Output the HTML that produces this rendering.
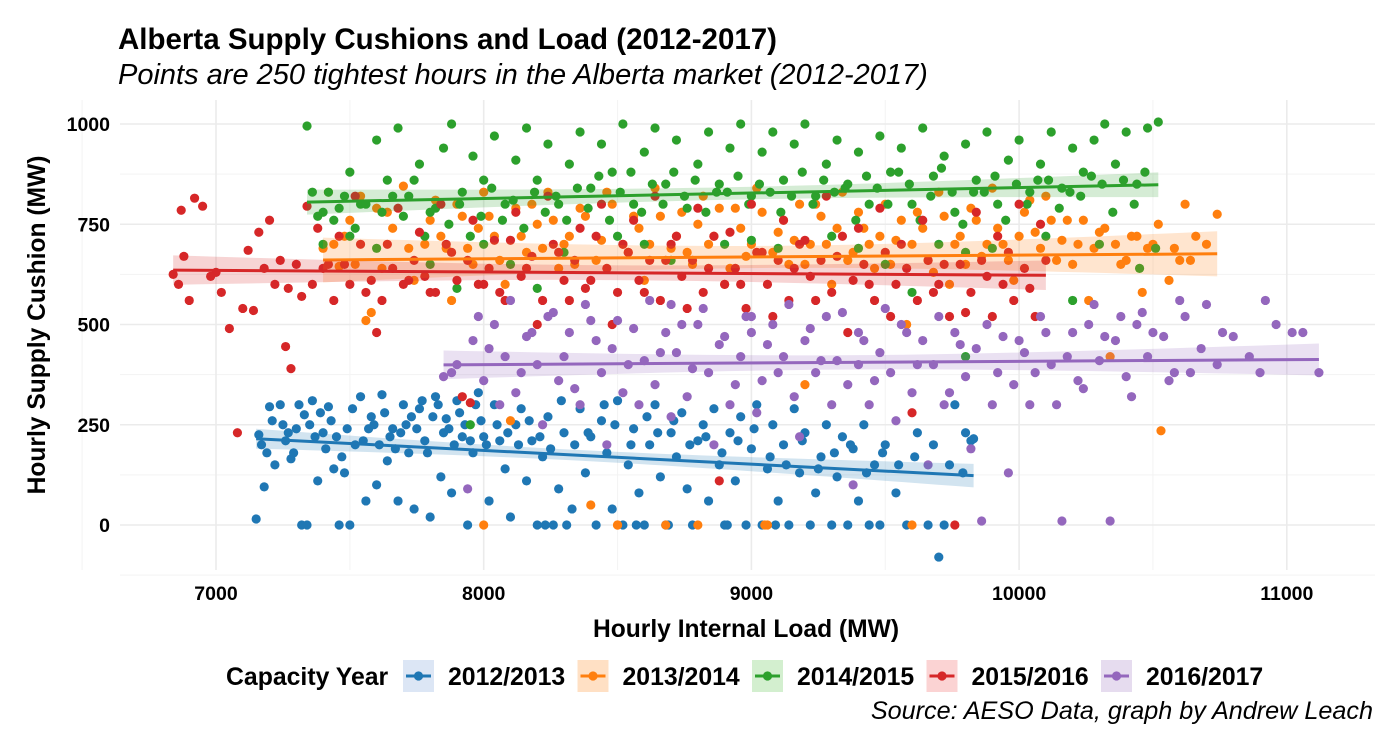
<!DOCTYPE html>
<html><head><meta charset="utf-8">
<style>
body{margin:0;background:#fff;}
svg{display:block;font-family:"Liberation Sans",Arial,sans-serif;}
</style></head>
<body>
<svg id="chart" width="1400" height="750" xmlns="http://www.w3.org/2000/svg">
<text x="118" y="49" font-size="29.5" font-weight="bold">Alberta Supply Cushions and Load (2012-2017)</text>
<text x="118" y="84" font-size="29" font-style="italic">Points are 250 tightest hours in the Alberta market (2012-2017)</text>
<g id="grid"></g>
<g id="marks"></g>
<g id="axes"></g>
<text x="746" y="637" font-size="24.6" font-weight="bold" text-anchor="middle">Hourly Internal Load (MW)</text>
<text transform="translate(45,325) rotate(-90)" font-size="24.6" font-weight="bold" text-anchor="middle">Hourly Supply Cushion (MW)</text>
<g id="legend">
<text x="226" y="685" font-size="24.8" font-weight="bold">Capacity Year</text>
</g>
<text x="1373" y="719" font-size="25.2" font-style="italic" text-anchor="end">Source: AESO Data, graph by Andrew Leach</text>
</svg>
<script>
const seriesNames=["2012/2013","2013/2014","2014/2015","2015/2016","2016/2017"];
const seriesColors=["#1f77b4","#ff7f0e","#2ca02c","#d62728","#9467bd"];
const fillColors=["#dce6f5","#ffe0c4","#d3efcf","#fbd3d3","#e6dcef"];
const xTicks=[7000,8000,9000,10000,11000];
const yTicks=[0,250,500,750,1000];
const s2012=[7150,15,7160,225,7180,95,7200,295,7220,150,7240,300,7260,210,7280,165,7300,240,7320,0,7330,275,7340,0,7360,310,7380,110,7400,230,7420,295,7440,140,7460,0,7480,130,7500,0,7520,200,7540,320,7560,60,7580,270,7600,100,7620,325,7640,160,7660,240,7680,60,7700,300,7720,180,7740,40,7760,290,7780,210,7800,20,7820,320,7840,120,7860,265,7880,80,7900,310,7920,220,7940,0,7960,180,7980,330,8000,220,8020,60,8040,300,8060,210,8080,140,8100,20,8120,250,8140,290,8160,110,8180,210,8200,0,8220,170,8240,270,8260,0,8280,90,8300,230,8330,40,8360,290,8380,130,8400,220,8420,0,8440,260,8460,180,8480,40,8500,310,8520,0,8540,150,8560,240,8580,80,8600,0,8620,200,8640,300,8660,120,8680,0,8700,230,8720,170,8740,280,8760,90,8780,0,8800,210,8820,250,8840,60,8860,290,8880,150,8900,0,8920,230,8940,110,8960,270,8980,0,9000,190,9020,300,9040,0,9060,140,9080,250,9100,60,9120,200,9140,0,9160,290,9180,130,9200,230,9220,0,9240,80,9260,170,9280,250,9300,0,9320,120,9340,220,9360,0,9380,190,9400,60,9420,250,9440,0,9460,150,9480,0,9500,200,9540,80,9580,0,9620,230,9660,0,9700,-80,9720,0,9760,300,9800,230,9830,215,
7170,200,7190,180,7210,260,7250,250,7270,230,7290,180,7310,300,7350,250,7370,220,7390,280,7410,190,7430,260,7450,220,7470,170,7490,240,7510,290,7550,210,7570,240,7590,250,7610,200,7630,280,7650,220,7670,190,7690,230,7710,250,7730,270,7750,240,7770,310,7790,180,7810,270,7830,300,7850,230,7870,240,7890,200,7910,280,7930,250,7950,210,7970,300,7990,260,8010,200,8050,250,8090,230,8130,200,8170,260,8210,220,8250,190,8290,310,8340,200,8390,230,8450,300,8490,250,8550,200,8610,270,8650,230,8710,260,8770,200,8830,220,8890,180,8950,210,9010,240,9070,170,9130,150,9190,210,9250,140,9310,180,9370,200,9430,130,9490,180,9550,150,9610,170,9680,200,9740,150,9790,130,9820,210,8310,0,8570,0,8690,0,8910,0,8230,0,9090,0];
const s2013=[7400,690,7420,830,7460,645,7500,760,7540,820,7560,510,7580,530,7600,790,7620,640,7660,740,7700,845,7740,610,7780,700,7820,810,7860,690,7880,560,7920,770,7960,650,8000,830,8040,720,8080,600,8120,790,8160,680,8200,750,8240,830,8280,640,8320,720,8360,790,8400,50,8420,660,8460,830,8500,0,8520,700,8560,770,8600,610,8640,840,8680,0,8700,690,8740,780,8780,650,8820,820,8860,720,8900,600,8940,790,8980,670,9020,840,9060,0,9100,730,9140,650,9180,800,9220,700,9260,770,9300,600,9340,830,9380,680,9420,740,9460,640,9500,800,9540,710,9580,500,9620,780,9660,660,9700,830,9740,600,9780,720,9820,790,9860,670,9900,840,9940,700,9980,610,10020,780,10060,730,10100,820,10140,660,10180,760,10220,700,10260,560,10300,730,10340,420,10380,650,10420,720,10460,580,10500,700,10530,235,10560,610,10600,660,10620,800,10660,720,10740,775,8100,260,9200,350,8800,0,
7440,700,7480,720,7520,650,7640,780,7720,690,7800,760,7840,720,7900,800,7940,690,7980,740,8020,770,8060,660,8140,720,8180,800,8220,690,8260,760,8300,700,8340,650,8380,770,8440,710,8480,800,8540,680,8580,740,8620,700,8660,770,8720,720,8760,680,8800,750,8840,700,8880,790,8920,640,8960,740,9000,700,9040,780,9080,680,9120,760,9160,710,9200,650,9240,800,9280,700,9320,740,9360,660,9400,780,9440,700,9480,720,9520,650,9560,760,9600,700,9640,740,9680,630,9720,770,9760,700,9800,650,9840,760,9880,700,9920,740,9960,660,10000,720,10040,810,10080,690,10120,760,10160,710,10200,650,10240,760,10280,690,10320,740,10360,700,10400,660,10440,720,10480,690,10520,750,10580,690,10640,660,10700,700,8000,0,8500,0,9050,0,9600,0];
const s2014=[7340,995,7380,770,7420,830,7460,790,7500,880,7540,800,7600,960,7640,860,7680,990,7720,820,7760,900,7800,780,7850,940,7880,1000,7920,830,7960,920,8000,860,8040,970,8080,800,8120,910,8160,990,8200,860,8240,950,8280,800,8320,900,8360,980,8400,840,8440,950,8480,880,8520,1000,8560,800,8600,930,8640,990,8680,850,8720,960,8760,790,8800,900,8840,980,8880,850,8920,940,8960,1000,9000,820,9040,930,9080,980,9120,860,9160,950,9200,1000,9240,820,9280,900,9320,960,9360,850,9400,930,9440,800,9480,970,9520,880,9560,940,9600,800,9640,990,9680,870,9720,920,9760,780,9800,950,9840,860,9880,980,9920,800,9960,910,10000,960,10040,830,10080,900,10120,980,10160,840,10200,940,10240,880,10280,960,10320,1000,10360,900,10400,980,10440,850,10480,990,10520,1005,7950,250,7900,590,8200,590,9600,580,9800,420,10200,560,8600,700,9400,690,
7360,830,7400,780,7440,760,7480,820,7520,740,7560,800,7620,780,7660,820,7700,770,7740,860,7780,720,7820,790,7870,750,7910,800,7950,720,7990,770,8030,840,8070,760,8110,810,8150,740,8190,830,8230,780,8270,820,8310,760,8350,840,8390,790,8430,870,8470,760,8510,830,8550,880,8590,780,8630,850,8670,800,8710,880,8750,820,8790,860,8830,780,8870,830,8910,830,8950,870,8990,800,9030,850,9070,830,9110,780,9150,820,9190,880,9230,800,9270,860,9310,830,9350,840,9390,760,9430,870,9470,840,9510,800,9550,880,9590,850,9630,760,9670,820,9710,890,9750,830,9790,750,9830,830,9870,830,9910,870,9950,760,9990,850,10030,800,10070,860,10110,860,10150,790,10190,830,10230,820,10270,870,10310,850,10350,780,10390,860,10430,800,10470,880,10510,690,
7400,700,7600,690,7800,650,8000,700,8300,680,8500,720,8700,660,8900,700,9100,690,9300,720,9500,650,9700,700,9900,690,10100,720,10300,700,10450,640,7500,720,8100,650,9000,710,9800,680];
const s2015=[6840,625,6870,785,6880,670,6920,815,6950,795,7000,630,7050,490,7080,230,7120,685,7140,535,7160,730,7200,760,7260,445,7280,390,7320,570,7340,795,7380,740,7420,650,7460,720,7520,820,7560,580,7600,480,7640,700,7680,790,7720,610,7760,730,7800,580,7840,800,7880,680,7920,320,7960,760,8000,600,8040,710,8080,560,8120,780,8160,640,8200,500,8240,820,8280,680,8320,560,8360,740,8400,610,8440,800,8480,500,8520,700,8560,760,8600,580,8640,820,8680,660,8720,720,8760,540,8800,790,8840,640,8880,110,8920,730,8960,600,9000,800,9040,680,9080,520,9120,760,9160,640,9200,710,9240,560,9280,820,9320,670,9360,480,9400,740,9440,600,9480,790,9520,520,9560,700,9600,280,9640,760,9680,580,9720,650,9760,0,9800,530,9840,780,9880,620,9920,720,9960,680,10000,800,10040,590,10080,750,10100,660,7950,305,7270,590,
6860,600,6900,560,6980,620,7020,580,7100,540,7180,640,7220,600,7240,660,7300,650,7360,600,7400,640,7440,560,7480,650,7500,600,7540,700,7580,610,7620,560,7660,640,7700,600,7740,660,7780,620,7820,580,7860,700,7900,610,7940,660,7980,600,8020,640,8060,580,8100,710,8140,620,8180,670,8220,560,8260,700,8300,610,8340,660,8380,590,8420,720,8460,640,8500,580,8540,680,8580,610,8620,660,8660,560,8700,700,8740,620,8780,660,8820,580,8860,720,8900,600,8940,640,8980,540,9020,680,9060,600,9100,660,9140,560,9180,700,9220,620,9260,660,9300,580,9340,720,9380,610,9420,650,9460,560,9500,680,9540,600,9580,640,9620,560,9660,660,9700,600,9740,520,9780,650,9820,580,9860,660,9900,520,9940,600,9980,560,10020,640,10060,520];
const s2016=[7850,370,7900,400,7940,90,7980,520,8020,440,8060,300,8100,560,8140,380,8180,480,8220,250,8260,530,8300,420,8340,340,8380,550,8420,460,8460,200,8500,510,8540,400,8580,300,8620,560,8660,430,8700,270,8740,500,8780,390,8820,540,8860,200,8900,470,8940,350,8980,520,9020,280,9060,450,9100,380,9140,550,9180,220,9220,490,9260,410,9300,300,9340,530,9380,100,9420,460,9460,360,9500,540,9540,260,9580,480,9620,400,9660,150,9700,520,9740,330,9780,450,9820,190,9860,10,9880,500,9920,380,9960,130,10000,460,10040,300,10080,520,10120,400,10160,10,10200,480,10240,340,10280,550,10320,470,10340,10,10380,520,10420,320,10460,530,10500,480,10560,360,10600,560,10640,380,10700,550,10760,480,10900,380,10920,560,10960,500,11020,480,11060,480,11120,380,8700,550,9000,520,9400,400,
7880,380,7960,460,8000,360,8040,500,8080,420,8120,330,8160,470,8200,400,8240,520,8280,360,8320,480,8360,300,8400,510,8440,380,8480,440,8520,330,8560,490,8600,410,8640,350,8680,480,8720,430,8760,320,8800,500,8840,380,8880,450,8920,300,8960,420,9000,480,9040,360,9080,500,9120,420,9160,320,9200,460,9240,380,9280,520,9320,410,9360,350,9400,480,9440,300,9480,430,9520,380,9560,500,9600,330,9640,460,9680,400,9720,300,9760,480,9800,370,9840,440,9900,300,9940,470,9980,350,10020,430,10060,380,10100,480,10140,300,10180,420,10220,360,10260,500,10300,410,10360,460,10400,370,10440,500,10480,420,10540,470,10580,380,10620,520,10680,440,10740,400,10800,470,10860,420];
const allSeries=[s2012,s2013,s2014,s2015,s2016];

const NS="http://www.w3.org/2000/svg";
const X0=120,X1=1375,Y0=100,Y1=570;
const xs=v=>216+(v-7000)*0.2677;
const ys=v=>525-v*0.401;
function mk(tag,parent,attrs){const e=document.createElementNS(NS,tag);for(const k in attrs)e.setAttribute(k,attrs[k]);parent.appendChild(e);return e;}
const grid=document.getElementById('grid'),marks=document.getElementById('marks'),axes=document.getElementById('axes'),legend=document.getElementById('legend');
[6500,7500,8500,9500,10500].forEach(v=>{const l=mk('line',grid,{x1:xs(v),x2:xs(v),y1:Y0,y2:Y1,stroke:'#f3f3f3','stroke-width':1});

});
[-125,125,375,625,875].forEach(v=>{const l=mk('line',grid,{x1:X0,x2:X1,y1:ys(v),y2:ys(v),stroke:'#f3f3f3','stroke-width':1});

});
xTicks.forEach(v=>{const l=mk('line',grid,{x1:xs(v),x2:xs(v),y1:Y0,y2:Y1,stroke:'#ebebeb','stroke-width':1.6});


const t=mk('text',axes,{x:xs(v),y:600,'font-size':19.5,'font-weight':'bold','text-anchor':'middle'});t.textContent=v;

});
yTicks.forEach(v=>{const l=mk('line',grid,{x1:X0,x2:X1,y1:ys(v),y2:ys(v),stroke:'#ebebeb','stroke-width':1.6});


const t=mk('text',axes,{x:110,y:ys(v)+7,'font-size':19.5,'font-weight':'bold','text-anchor':'end'});t.textContent=v;

});
allSeries.forEach((s,i)=>{for(let k=0;k<s.length;k+=2){const c=mk('circle',marks,{cx:xs(s[k]),cy:ys(s[k+1]),r:4.6,fill:seriesColors[i]});

}});
allSeries.forEach((s,i)=>{const n=s.length/2;let sx=0,sy=0;for(let k=0;k<s.length;k+=2){sx+=s[k];sy+=s[k+1];}
const mx=sx/n,my=sy/n;let sxx=0,sxy=0;for(let k=0;k<s.length;k+=2){sxx+=(s[k]-mx)**2;sxy+=(s[k]-mx)*(s[k+1]-my);}
const b=sxy/sxx,a=my-b*mx;let sse=0;for(let k=0;k<s.length;k+=2){sse+=(s[k+1]-a-b*s[k])**2;}
const sig=Math.sqrt(sse/(n-2));let lo=Infinity,hi=-Infinity;for(let k=0;k<s.length;k+=2){lo=Math.min(lo,s[k]);hi=Math.max(hi,s[k]);}
const up=[],dn=[];for(let j=0;j<=40;j++){const x=lo+(hi-lo)*j/40;const se=1.97*sig*Math.sqrt(1/n+(x-mx)**2/sxx);const y=a+b*x;up.push(xs(x)+','+ys(y+se));dn.unshift(xs(x)+','+ys(y-se));}
const r=mk('polygon',marks,{points:up.concat(dn).join(' '),fill:seriesColors[i],'fill-opacity':0.2});


const l=mk('line',marks,{x1:xs(lo),y1:ys(a+b*lo),x2:xs(hi),y2:ys(a+b*hi),stroke:seriesColors[i],'stroke-width':3});

});
seriesNames.forEach((nm,i)=>{const x=403+i*174.5;
const g=mk('g',legend,{});


mk('rect',g,{x:x,y:660,width:31,height:32,fill:fillColors[i]});
mk('line',g,{x1:x+3,x2:x+28,y1:676,y2:676,stroke:seriesColors[i],'stroke-width':3});
mk('circle',g,{cx:x+15.5,cy:676,r:4.6,fill:seriesColors[i]});
const t=mk('text',g,{x:x+45,y:685,'font-size':24.8,'font-weight':'bold'});t.textContent=nm;});
</script>
</body></html>
